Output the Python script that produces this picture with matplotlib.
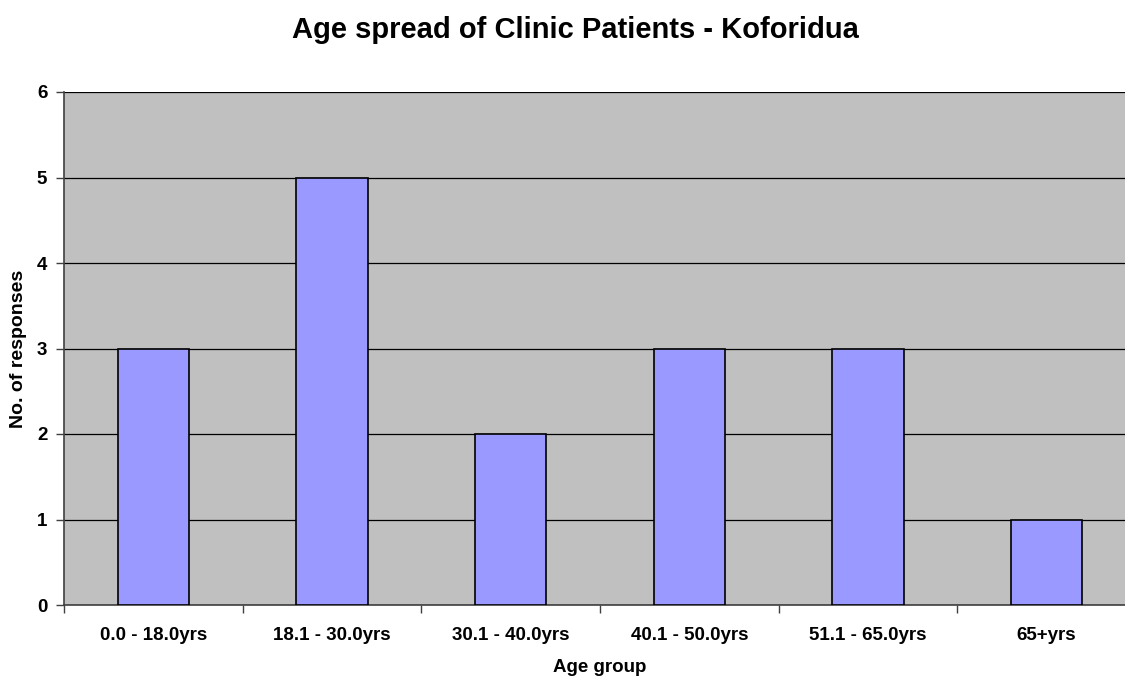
import matplotlib
matplotlib.use("Agg")
import matplotlib.pyplot as plt
from matplotlib.ticker import FixedLocator

plt.rcParams['font.family'] = ['Liberation Sans', 'DejaVu Sans']

categories = ["0.0 - 18.0yrs", "18.1 - 30.0yrs", "30.1 - 40.0yrs",
              "40.1 - 50.0yrs", "51.1 - 65.0yrs", "65+yrs"]
responses = [3, 5, 2, 3, 3, 1]
y_ticks = [0, 1, 2, 3, 4, 5, 6]

fig = plt.figure(figsize=(11.25, 6.77), dpi=100)
left_px, right_px, top_px, bot_px = 64, 1136, 92, 605
ax_w = right_px - left_px
ax_h = bot_px - top_px
ax = fig.add_axes([left_px/1125, 1-bot_px/677, ax_w/1125, ax_h/677])
ax.set_facecolor('#c0c0c0')

x = list(range(len(categories)))
ax.bar(x, responses, width=0.4, color='#9999ff', edgecolor='black', linewidth=1.2, zorder=3)

ax.set_xlim(-0.5, len(categories) - 0.5)
ax.set_ylim(0, 6)
ax.set_yticks(y_ticks)
ax.set_yticklabels([str(t) for t in y_ticks], fontsize=13.5, fontweight='bold')
ax.yaxis.grid(True, color='black', linewidth=0.9, zorder=1)
ax.set_axisbelow(True)

ax.set_xticks(x)
ax.set_xticklabels(categories, fontsize=13.5, fontweight='bold')
ax.tick_params(axis='x', length=0, pad=16)
ax.xaxis.set_minor_locator(FixedLocator([i - 0.5 for i in range(len(categories) + 1)]))
ax.tick_params(axis='x', which='minor', length=6, width=1, color='#404040')
ax.tick_params(axis='y', length=6, width=1, color='#404040', pad=6)

for s in ['top', 'right']:
    ax.spines[s].set_visible(False)
for s in ['left', 'bottom']:
    ax.spines[s].set_color('#404040')
    ax.spines[s].set_linewidth(1.2)

ax.set_xlabel("Age group", fontsize=13.5, fontweight='bold')
ax.xaxis.set_label_coords(0.5, -63/ax_h)
ax.xaxis.label.set_va('center')
ax.set_ylabel("No. of responses", fontsize=14, fontweight='bold')
ax.yaxis.set_label_coords(-45/ax_w, 0.5)
ax.yaxis.label.set_va('center')
ax.yaxis.label.set_ha('center')
fig.text(575/1125, 1-30/677, "Age spread of Clinic Patients - Koforidua",
         ha='center', va='center', fontsize=21, fontweight='bold')

fig.savefig("out.png", dpi=100)
